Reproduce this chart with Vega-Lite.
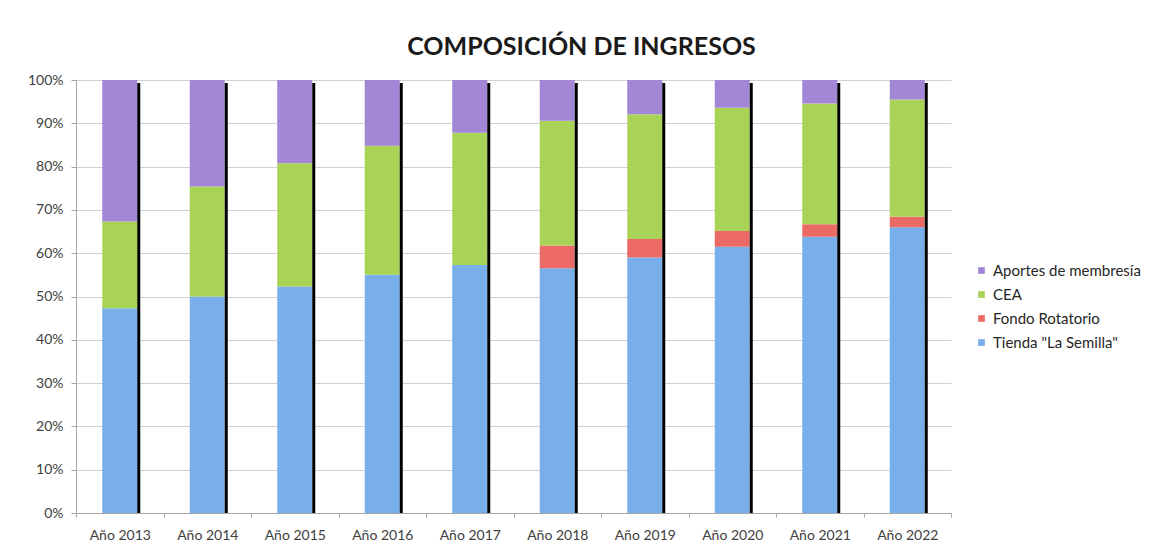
{
  "$schema": "https://vega.github.io/schema/vega-lite/v6.json",
  "width": 875,
  "height": 433,
  "autosize": {"type": "none"},
  "padding": {"left": 76, "top": 80, "right": 199, "bottom": 44},
  "background": "white",
  "config": {
    "font": "Lato",
    "view": {"stroke": null},
    "axis": {"labelFont": "Lato", "labelColor": "#404040", "labelFontSize": 14, "domainColor": "#a6a6a6", "tickColor": "#a6a6a6", "gridColor": "#d0d0d0"}
  },
  "title": {
    "text": "COMPOSICIÓN DE INGRESOS",
    "font": "Lato",
    "fontSize": 25,
    "fontWeight": "bold",
    "color": "#1a1a1a",
    "anchor": "middle",
    "dx": 68,
    "offset": 13
  },
  "data": {
    "values": [
      {"anio": "Año 2013", "serie": "Tienda \"La Semilla\"", "valor": 47.3},
      {"anio": "Año 2013", "serie": "Fondo Rotatorio", "valor": 0},
      {"anio": "Año 2013", "serie": "CEA", "valor": 20.0},
      {"anio": "Año 2013", "serie": "Aportes de membresía", "valor": 32.7},
      {"anio": "Año 2014", "serie": "Tienda \"La Semilla\"", "valor": 50.0},
      {"anio": "Año 2014", "serie": "Fondo Rotatorio", "valor": 0},
      {"anio": "Año 2014", "serie": "CEA", "valor": 25.4},
      {"anio": "Año 2014", "serie": "Aportes de membresía", "valor": 24.6},
      {"anio": "Año 2015", "serie": "Tienda \"La Semilla\"", "valor": 52.3},
      {"anio": "Año 2015", "serie": "Fondo Rotatorio", "valor": 0},
      {"anio": "Año 2015", "serie": "CEA", "valor": 28.5},
      {"anio": "Año 2015", "serie": "Aportes de membresía", "valor": 19.2},
      {"anio": "Año 2016", "serie": "Tienda \"La Semilla\"", "valor": 55.0},
      {"anio": "Año 2016", "serie": "Fondo Rotatorio", "valor": 0},
      {"anio": "Año 2016", "serie": "CEA", "valor": 29.8},
      {"anio": "Año 2016", "serie": "Aportes de membresía", "valor": 15.2},
      {"anio": "Año 2017", "serie": "Tienda \"La Semilla\"", "valor": 57.3},
      {"anio": "Año 2017", "serie": "Fondo Rotatorio", "valor": 0},
      {"anio": "Año 2017", "serie": "CEA", "valor": 30.5},
      {"anio": "Año 2017", "serie": "Aportes de membresía", "valor": 12.2},
      {"anio": "Año 2018", "serie": "Tienda \"La Semilla\"", "valor": 56.5},
      {"anio": "Año 2018", "serie": "Fondo Rotatorio", "valor": 5.3},
      {"anio": "Año 2018", "serie": "CEA", "valor": 28.8},
      {"anio": "Año 2018", "serie": "Aportes de membresía", "valor": 9.4},
      {"anio": "Año 2019", "serie": "Tienda \"La Semilla\"", "valor": 59.0},
      {"anio": "Año 2019", "serie": "Fondo Rotatorio", "valor": 4.3},
      {"anio": "Año 2019", "serie": "CEA", "valor": 28.8},
      {"anio": "Año 2019", "serie": "Aportes de membresía", "valor": 7.9},
      {"anio": "Año 2020", "serie": "Tienda \"La Semilla\"", "valor": 61.5},
      {"anio": "Año 2020", "serie": "Fondo Rotatorio", "valor": 3.6},
      {"anio": "Año 2020", "serie": "CEA", "valor": 28.5},
      {"anio": "Año 2020", "serie": "Aportes de membresía", "valor": 6.4},
      {"anio": "Año 2021", "serie": "Tienda \"La Semilla\"", "valor": 63.8},
      {"anio": "Año 2021", "serie": "Fondo Rotatorio", "valor": 2.9},
      {"anio": "Año 2021", "serie": "CEA", "valor": 27.9},
      {"anio": "Año 2021", "serie": "Aportes de membresía", "valor": 5.4},
      {"anio": "Año 2022", "serie": "Tienda \"La Semilla\"", "valor": 66.0},
      {"anio": "Año 2022", "serie": "Fondo Rotatorio", "valor": 2.4},
      {"anio": "Año 2022", "serie": "CEA", "valor": 27.1},
      {"anio": "Año 2022", "serie": "Aportes de membresía", "valor": 4.5}
    ]
  },
  "layer": [
    {
      "mark": {"type": "bar", "width": {"band": 0.4}},
      "encoding": {
        "x": {
          "field": "anio", "type": "nominal", "title": null, "sort": null,
          "scale": {"paddingInner": 0, "paddingOuter": 0},
          "axis": {"labelAngle": 0, "labelPadding": 11, "tickBand": "extent", "tickSize": 4}
        },
        "y": {
          "field": "valor", "type": "quantitative", "stack": "normalize", "title": null,
          "scale": {"domain": [0, 1], "nice": false},
          "axis": {"format": ".0%", "values": [0, 0.1, 0.2, 0.3, 0.4, 0.5, 0.6, 0.7, 0.8, 0.9, 1], "labelOverlap": false, "tickSize": 5, "labelPadding": 8, "grid": true}
        },
        "color": {
          "field": "serie", "type": "nominal",
          "scale": {
            "domain": ["Aportes de membresía", "CEA", "Fondo Rotatorio", "Tienda \"La Semilla\""],
            "range": ["#a386d6", "#a9d357", "#ec6a66", "#78aee9"]
          },
          "legend": {
            "title": null, "orient": "none", "legendX": 898, "legendY": 183,
            "symbolType": "square", "symbolSize": 45, "symbolStrokeWidth": 0,
            "labelFont": "Lato", "labelFontSize": 15, "labelColor": "#262626",
            "rowPadding": 8, "labelOffset": 4
          }
        },
        "order": {"field": "serie", "sort": "descending"}
      }
    },
    {
      "transform": [{"filter": "datum.serie === 'CEA'"}],
      "mark": {"type": "rule", "color": "#000000", "strokeWidth": 3, "xOffset": 19},
      "encoding": {
        "x": {"field": "anio", "type": "nominal", "sort": null},
        "y": {
          "datum": 0.993, "type": "quantitative",
          "axis": {"format": ".0%", "values": [0, 0.1, 0.2, 0.3, 0.4, 0.5, 0.6, 0.7, 0.8, 0.9, 1], "labelOverlap": false, "tickSize": 5, "labelPadding": 8, "grid": true}
        },
        "y2": {"datum": 0}
      }
    }
  ]
}
